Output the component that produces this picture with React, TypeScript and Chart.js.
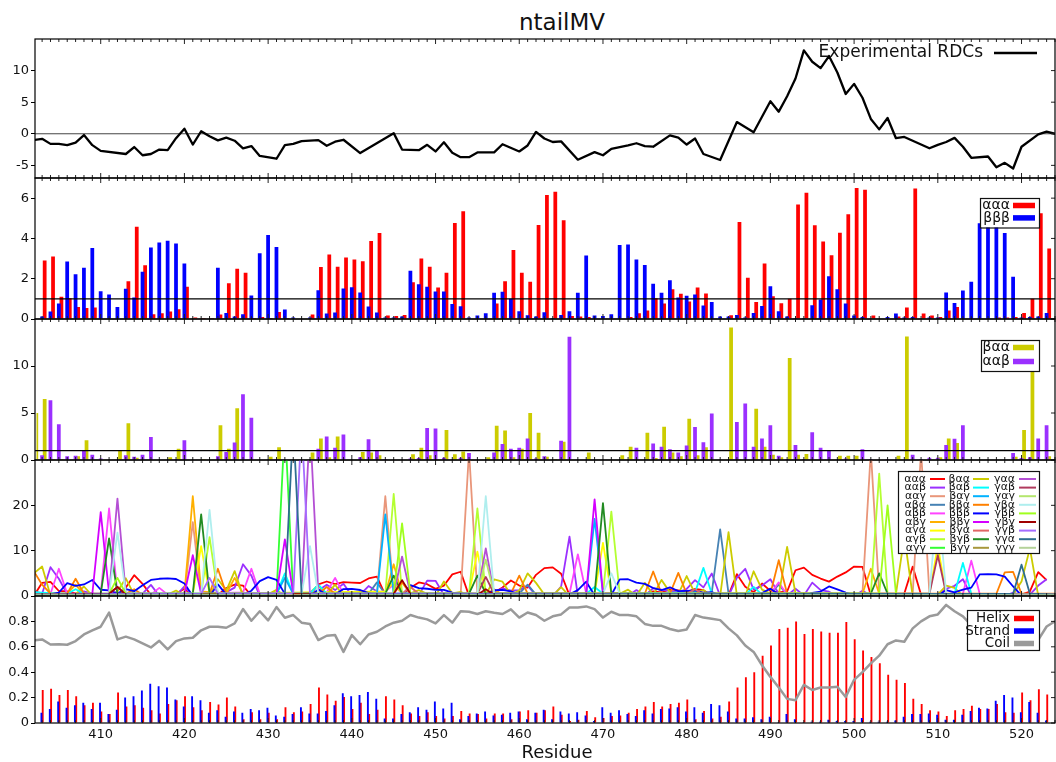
import React, { useEffect, useRef } from 'react';
import { Chart, registerables } from 'chart.js';

Chart.register(...registerables);

const FONT = '"DejaVu Sans", "Liberation Sans", Arial, sans-serif';
const W = 1056;
const PAD = 10;
const XAXIS_H = 45;
const XMIN = 402.15;
const XMAX = 524.0;
const BAR_SHIFT = 0.15;

// residues of the per-residue tables (402 .. 523)
const RESIDUES = Array.from({ length: 122 }, (_, i) => 402 + i);

// ---------- panel 1: experimental RDCs ----------
const RDC_RES = [402, 403, 404, 405, 406, 407, 408, 409, 410, 413, 414, 415, 416, 417, 418, 419, 420, 421, 422, 423, 424, 425, 426, 427, 428, 429, 431, 432, 433, 434, 436, 437, 438, 439, 441, 445, 446, 448, 449, 450, 451, 452, 453, 454, 455, 457, 458, 460, 461, 462, 463, 464, 465, 467, 469, 470, 471, 473, 474, 475, 476, 478, 479, 480, 481, 482, 484, 486, 488, 490, 491, 492, 493, 494, 495, 496, 497, 498, 499, 500, 501, 502, 503, 504, 505, 506, 509, 510, 511, 512, 513, 514, 516, 517, 518, 519, 520, 522, 523, 524];
const RDC_VAL = [-1.0, -0.8, -1.6, -1.6, -1.8, -1.4, -0.2, -1.8, -2.7, -3.2, -2.1, -3.4, -3.2, -2.5, -2.6, -0.7, 0.8, -1.7, 0.4, -0.4, -1.05, -0.6, -1.1, -2.3, -1.95, -3.5, -3.95, -1.8, -1.6, -1.15, -1.0, -1.9, -1.25, -0.95, -3.05, 0.1, -2.5, -2.6, -1.75, -2.8, -1.35, -3.0, -3.7, -3.7, -2.95, -2.95, -1.65, -2.8, -1.85, 0.3, -0.75, -1.3, -1.2, -4.1, -2.9, -3.4, -2.4, -1.85, -1.5, -1.95, -2.05, -0.25, -0.6, -1.7, -0.75, -3.2, -4.15, 1.85, 0.25, 5.15, 3.5, 5.95, 8.75, 13.2, 11.4, 10.4, 12.3, 9.7, 6.3, 7.9, 5.7, 2.35, 0.7, 2.5, -0.7, -0.5, -2.3, -1.75, -1.3, -0.65, -2.05, -3.8, -3.6, -5.3, -4.6, -5.5, -2.05, -0.1, 0.35, 0.0];

// ---------- panel 2: ααα / βββ ----------
const AAA = [
  0, 2.9, 3.1, 1.1, 1.03, 0.6, 0.55, 0.57,
  0.0, 0.0, 0.02, 1.88, 4.58, 2.67, 0.23, 0.28, 0.37, 0.48,
  1.6, 0.07, 0.05, 0.05, 0.22, 1.77, 2.5, 2.3, 0.05, 0.1,
  0.05, 0.35, 0.05, 0.02, 0.02, 0.22, 2.58, 3.2, 2.6, 3.05,
  2.95, 2.87, 3.87, 4.27, 0.17, 0.15, 0.2, 1.82, 3.0, 2.6,
  1.57, 2.3, 4.77, 5.35, 0.02, 0.0, 0.02, 0.77, 1.87, 3.43,
  2.3, 1.85, 4.67, 6.15, 6.32, 4.9, 0.15, 0.13, 0.1, 0.0,
  0.0, 0.0, 0.0, 0.1, 0.28, 0.42, 1.03, 0.77, 1.48, 1.25,
  0.87, 1.57, 1.27, 0.0, 0.03, 0.18, 4.82, 2.05, 0.85, 2.75,
  1.13, 0.78, 1.0, 5.68, 6.27, 4.65, 3.85, 3.17, 4.28, 5.2,
  6.5, 6.42, 0.17, 0.03, 0.03, 0.12, 0.57, 6.48, 0.27, 0.17,
  0.1, 0.42, 0.6, 0.0, 0.0, 0.0, 0.02, 0.08, 0.08, 0.1,
  0.3, 1.0, 5.25, 3.5,
];
const BBB = [
  0.35, 0.13, 0.37, 0.77, 2.85, 2.22, 2.55, 3.52,
  1.38, 1.22, 0.6, 1.5, 1.07, 2.35, 3.55, 3.8, 3.88, 3.75,
  2.75, 0.02, 0.0, 0.0, 2.55, 0.3, 0.12, 0.23, 1.17, 3.27,
  4.17, 3.57, 0.47, 0.07, 0.03, 0.08, 1.43, 0.27, 0.32, 1.52,
  1.58, 1.32, 0.62, 0.32, 0.07, 0.07, 0.12, 2.4, 1.72, 1.6,
  1.37, 1.37, 0.75, 0.63, 0.08, 0.17, 0.28, 1.3, 1.35, 1.0,
  0.38, 0.18, 0.12, 0.33, 0.05, 0.2, 0.38, 1.3, 3.15, 0.17,
  0.15, 0.23, 3.67, 3.7, 2.95, 2.68, 1.75, 1.3, 1.92, 1.07,
  1.15, 1.22, 0.67, 0.85, 0.13, 0.13, 0.2, 0.08, 0.3, 0.65,
  1.62, 0.38, 0.13, 0.05, 0.05, 0.68, 0.97, 2.12, 1.48, 0.77,
  0.17, 0.1, 0.0, 0.02, 0.1, 0.27, 0.07, 0.1, 0.0, 0.07,
  0.07, 1.32, 0.8, 1.42, 1.85, 4.75, 4.8, 4.75, 4.27, 2.1,
  0.07, 0.1, 0.13, 0.3,
];

// ---------- panel 3: βαα / ααβ ----------
const BAA = [
  5.0, 6.5, 0.1, 0.1, 0.0, 0.4, 2.1, 0.05,
  0.0, 0.0, 1.0, 3.9, 0.25, 0.05, 0.0, 0.05, 0.3, 1.2,
  0.05, 0.0, 0.1, 0.0, 3.7, 1.2, 5.5, 0.0, 0.05, 0.0,
  0.35, 1.35, 0.0, 0.0, 0.0, 0.8, 2.3, 0.3, 2.5, 0.0,
  0.0, 0.85, 0.8, 0.5, 0.05, 0.0, 0.0, 0.6, 1.3, 0.5,
  0.0, 3.2, 0.6, 0.9, 0.0, 0.0, 0.3, 3.65, 3.15, 0.3,
  1.2, 5.0, 2.9, 0.35, 0.1, 1.95, 0.0, 0.0, 0.8, 0.0,
  0.0, 0.0, 0.5, 1.4, 0.05, 2.9, 0.2, 3.55, 0.8, 0.4,
  4.4, 0.5, 1.35, 0.0, 0.0, 14.1, 0.1, 0.0, 5.45, 1.4,
  0.55, 0.3, 10.85, 0.55, 0.65, 0.0, 0.0, 0.0, 0.45, 0.45,
  0.45, 0.0, 0.0, 0.0, 0.0, 0.45, 13.15, 0.0, 0.0, 0.0,
  0.3, 2.3, 1.8, 0.0, 0.0, 0.0, 0.0, 0.0, 0.0, 0.35,
  3.2, 10.5, 0.0, 0.4,
];
const AAB = [
  0.2, 0.5, 6.35, 3.8, 0.4, 0.45, 1.0, 0.55,
  0.15, 0.0, 0.0, 0.5, 0.35, 0.55, 2.45, 0.0, 0.0, 0.1,
  2.1, 0.0, 0.0, 0.0, 0.4, 0.85, 1.85, 7.0, 4.5, 0.0,
  0.0, 0.1, 0.0, 0.0, 0.0, 0.0, 1.2, 2.5, 1.3, 2.7,
  0.05, 0.3, 2.2, 1.0, 0.1, 0.0, 0.0, 0.15, 0.2, 3.4,
  3.35, 0.25, 0.0, 0.25, 0.75, 0.0, 0.0, 0.8, 1.7, 1.2,
  1.3, 2.3, 0.15, 0.4, 0.0, 2.05, 13.1, 0.0, 0.0, 0.0,
  0.0, 0.0, 0.0, 0.05, 1.3, 0.05, 1.75, 1.4, 1.15, 0.8,
  1.55, 3.5, 1.9, 4.95, 0.0, 0.0, 4.05, 6.0, 1.4, 2.3,
  3.7, 0.45, 0.1, 1.6, 0.1, 2.95, 1.3, 0.95, 0.0, 0.15,
  0.0, 1.15, 0.1, 0.0, 0.1, 0.0, 0.0, 0.55, 0.1, 0.25,
  0.25, 1.6, 2.25, 3.7, 0.0, 0.0, 0.0, 0.0, 0.0, 0.75,
  0.2, 0.3, 2.3, 3.7,
];

// ---------- panel 4: the other triplet propensities, as [residue, value] ----------
const L_AAG = [[402, 0.2], [420, 0.3], [421, 16.3], [422, 0.4], [443, 0.6], [444, 22], [445, 0.5], [453, 0.4], [454, 32], [455, 0.5], [501, 0.6], [502, 32], [503, 0.6], [507, 0.5], [508, 32], [509, 0.5], [524, 0.2]];
const L_ABA = [[402, 1.0], [404, 0.2], [442, 0.5], [443, 3.0], [444, 0.4], [460, 0.5], [461, 2.5], [462, 0.3], [483, 0.8], [484, 14.7], [485, 0.5], [490, 0.5], [491, 2.5], [492, 0.3], [524, 0.2]];
const L_ABB = [[402, 0.3], [404, 0.5], [405, 6.0], [406, 0.5], [410, 0.5], [411, 19.3], [412, 0.5], [416, 0.3], [417, 1.8], [418, 0.3], [427, 0.8], [428, 6.0], [429, 0.5], [437, 0.8], [438, 4.0], [439, 0.5], [444, 1.0], [445, 2.5], [446, 0.5], [466, 0.5], [467, 9.2], [468, 0.5], [490, 0.5], [491, 3.0], [492, 0.3], [513, 0.5], [514, 7.8], [515, 0.5], [524, 0.3]];
const L_ABG = [[402, 0.5], [406, 0.5], [407, 2.5], [408, 0.3], [420, 0.5], [421, 22], [422, 1.0], [425, 0.5], [426, 4.0], [427, 0.5], [444, 0.5], [445, 7.0], [446, 0.5], [456, 0.4], [457, 1.5], [458, 0.3], [501, 0.5], [502, 6.0], [503, 0.5], [524, 0.3]];
const L_AGA = [[402, 0.3], [421, 0.5], [422, 11], [423, 0.5], [444, 1.0], [445, 3.0], [446, 0.5], [454, 0.5], [455, 9.8], [456, 0.5], [469, 0.5], [470, 11.7], [471, 0.5], [509, 0.5], [510, 11], [511, 0.5], [524, 0.3]];
const L_AGB = [[402, 0.2], [422, 0.5], [423, 13], [424, 0.5], [444, 0.5], [445, 22.5], [446, 0.5], [454, 0.5], [455, 19.3], [456, 0.5], [470, 0.5], [471, 18.6], [472, 0.5], [502, 0.5], [503, 27], [504, 0.5], [524, 0.2]];
const L_AGG = [[402, 0.2], [431, 0.3], [432, 38], [433, 0.3], [524, 0.2]];
const L_BAB = [[402, 0.8], [406, 0.5], [407, 1.5], [408, 0.5], [431, 0.5], [432, 5.0], [433, 0.5], [435, 0.5], [436, 2.5], [437, 0.5], [468, 0.5], [469, 2.0], [470, 0.5], [481, 0.8], [482, 6.2], [483, 0.5], [487, 0.3], [488, 2.0], [489, 0.3], [512, 0.5], [513, 7.3], [514, 0.5], [524, 0.3]];
const L_BAG = [[402, 0.3], [431, 0.5], [432, 4.0], [433, 0.5], [443, 0.5], [444, 18], [445, 0.5], [468, 0.5], [469, 17], [470, 0.5], [524, 0.3]];
const L_BBA = [[402, 5.5], [403, 2.5], [404, 0.5], [406, 0.5], [407, 3.8], [408, 0.5], [413, 0.5], [414, 1.5], [415, 0.3], [423, 0.5], [424, 6.0], [425, 0.5], [436, 0.5], [437, 2.0], [438, 0.5], [445, 0.5], [446, 3.0], [447, 0.5], [459, 0.5], [460, 4.5], [461, 0.5], [475, 0.5], [476, 5.4], [477, 0.5], [478, 0.5], [479, 5.1], [480, 0.5], [490, 0.5], [491, 7.9], [492, 0.5], [517, 0.5], [518, 5.2], [519, 5.3], [520, 0.5], [524, 0.5]];
const L_BBG = [[402, 0.3], [409, 0.5], [410, 18.5], [411, 0.5], [420, 0.5], [421, 9.0], [422, 0.5], [431, 0.5], [432, 12.5], [433, 0.5], [468, 0.5], [469, 21.3], [470, 0.5], [524, 0.3]];
const L_BGA = [[402, 0.3], [446, 0.5], [447, 2.0], [448, 0.5], [480, 0.5], [481, 1.5], [482, 0.3], [524, 0.3]];
const L_BGB = [[402, 0.3], [410, 0.5], [411, 12.7], [412, 0.5], [421, 0.5], [422, 18], [423, 0.5], [444, 0.5], [445, 4.5], [446, 0.5], [454, 0.5], [455, 4.5], [456, 0.5], [469, 0.5], [470, 20.5], [471, 0.5], [502, 0.5], [503, 5.0], [504, 0.5], [524, 0.3]];
const L_BGG = [[402, 0.3], [524, 0.3]];
const L_GAA = [[402, 0.3], [411, 0.5], [412, 21.5], [413, 0.5], [434, 0.5], [435, 38], [436, 0.5], [445, 0.5], [446, 8.7], [447, 0.5], [455, 0.5], [456, 10.5], [457, 0.5], [524, 0.3]];
const L_GAB = [[402, 0.3], [411, 0.5], [412, 2.0], [413, 0.3], [455, 0.5], [456, 4.2], [457, 0.5], [509, 0.5], [510, 9.0], [511, 0.5], [524, 0.3]];
const L_GAG = [[402, 0.3], [455, 0.5], [456, 8.0], [457, 0.5], [524, 0.3]];
const L_GBA = [[402, 0.3], [411, 0.5], [412, 14], [413, 0.5], [422, 0.5], [423, 19], [424, 0.5], [434, 0.5], [435, 11], [436, 0.5], [455, 0.5], [456, 22], [457, 0.5], [470, 0.5], [471, 5.0], [472, 0.5], [509, 0.5], [510, 22], [511, 0.5], [524, 0.3]];
const L_GBB = [[402, 0.3], [411, 0.5], [412, 4.0], [413, 0.5], [445, 0.5], [446, 16], [447, 0.5], [503, 0.5], [504, 20], [505, 0.5], [524, 0.3]];
const L_GBG = [[402, 0.3], [411, 0.5], [412, 2.0], [413, 0.3], [445, 0.5], [446, 3.5], [447, 0.5], [455, 0.3], [456, 1.5], [457, 0.3], [524, 0.3]];
const L_GGB = [[402, 0.3], [422, 0.5], [423, 4.0], [424, 0.5], [433, 0.5], [434, 38], [435, 0.5], [524, 0.3]];
const L_GGA = [[402, 0.3], [432, 0.3], [433, 38], [434, 0.3], [519, 0.5], [520, 6.9], [521, 0.5], [524, 0.3]];
const L_GGG = [[402, 0.2], [524, 0.2]];

// ---------- panel 5: secondary structure ----------
const HELIX = [
  0.21, 0.26, 0.27, 0.22, 0.26, 0.21, 0.14, 0.16,
  0.09, 0.07, 0.24, 0.13, 0.14, 0.12, 0.1, 0.075, 0.15, 0.18,
  0.21, 0.125, 0.1, 0.165, 0.145, 0.2, 0.13, 0.03, 0.085, 0.03,
  0.08, 0.03, 0.125, 0.085, 0.09, 0.15, 0.28, 0.225, 0.175, 0.205,
  0.11, 0.16, 0.07, 0.105, 0.21, 0.185, 0.14, 0.075, 0.055, 0.085,
  0.055, 0.035, 0.055, 0.095, 0.075, 0.07, 0.035, 0.075, 0.075, 0.03,
  0.09, 0.1, 0.08, 0.1, 0.13, 0.065, 0.015, 0.025, 0.095, 0.045,
  0.04, 0.055, 0.06, 0.08, 0.11, 0.13, 0.165, 0.13, 0.15, 0.16,
  0.185, 0.03, 0.095, 0.035, 0.05, 0.17, 0.28, 0.36, 0.4, 0.53,
  0.61, 0.74, 0.75, 0.8, 0.7, 0.74, 0.72, 0.71, 0.71, 0.795,
  0.66, 0.57, 0.52, 0.47, 0.38, 0.34, 0.315, 0.19, 0.15, 0.1,
  0.09, 0.055, 0.1, 0.11, 0.135, 0.11, 0.11, 0.15, 0.085, 0.08,
  0.24, 0.18, 0.265, 0.225,
];
const STRAND = [
  0.14, 0.08, 0.11, 0.17, 0.12, 0.14, 0.16, 0.11,
  0.16, 0.07, 0.105, 0.2, 0.21, 0.255, 0.31, 0.29, 0.28, 0.185,
  0.13, 0.21, 0.18, 0.08, 0.1, 0.05, 0.09, 0.08, 0.11, 0.1,
  0.12, 0.06, 0.05, 0.07, 0.125, 0.075, 0.075, 0.095, 0.14, 0.235,
  0.21, 0.22, 0.245, 0.19, 0.035, 0.035, 0.07, 0.085, 0.125, 0.105,
  0.17, 0.115, 0.16, 0.03, 0.055, 0.075, 0.09, 0.06, 0.065, 0.08,
  0.09, 0.03, 0.08, 0.105, 0.03, 0.09, 0.075, 0.085, 0.06, 0.015,
  0.125, 0.08, 0.1, 0.07, 0.055, 0.1, 0.075, 0.11, 0.115, 0.125,
  0.09, 0.125, 0.08, 0.15, 0.14, 0.09, 0.035, 0.035, 0.045, 0.03,
  0.05, 0.005, 0.07, 0.03, 0.005, 0.01, 0.01, 0.025, 0.015, 0.015,
  0.015, 0.04, 0.01, 0.01, 0.01, 0.02, 0.05, 0.07, 0.07, 0.075,
  0.065, 0.025, 0.025, 0.065, 0.095, 0.12, 0.115, 0.175, 0.22, 0.2,
  0.085, 0.165, 0.08, 0.02,
];
// coil: residues 402 .. 524
const COIL = [
  0.65, 0.658, 0.618, 0.62, 0.616, 0.645, 0.697, 0.73,
  0.758, 0.87, 0.658, 0.68, 0.658, 0.626, 0.595, 0.647, 0.58, 0.645,
  0.666, 0.671, 0.73, 0.758, 0.758, 0.75, 0.784, 0.897, 0.805, 0.88,
  0.808, 0.913, 0.829, 0.85, 0.79, 0.779, 0.653, 0.687, 0.692, 0.56,
  0.692, 0.62, 0.697, 0.718, 0.76, 0.79, 0.805, 0.85, 0.83, 0.816,
  0.784, 0.85, 0.79, 0.88, 0.876, 0.858, 0.88, 0.868, 0.858, 0.895,
  0.83, 0.87, 0.85, 0.805, 0.84, 0.855, 0.91, 0.91, 0.918, 0.897,
  0.83, 0.876, 0.85, 0.85, 0.84, 0.78, 0.765, 0.765, 0.74, 0.724,
  0.737, 0.85, 0.83, 0.82, 0.81, 0.745, 0.69, 0.61, 0.56, 0.455,
  0.363, 0.28, 0.19, 0.18, 0.3, 0.26, 0.28, 0.28, 0.285, 0.205,
  0.34, 0.4, 0.47, 0.53, 0.62, 0.65, 0.64, 0.745, 0.8, 0.84,
  0.855, 0.93, 0.88, 0.84, 0.77, 0.77, 0.775, 0.675, 0.695, 0.72,
  0.675, 0.655, 0.655, 0.76, 0.8,
];

const C = {
  red: '#ff0000', blue: '#0000ff', olive: '#cccc00', purple: '#9b30ff', grey: '#9a9a9a',
};

const pts = (vals: number[]) => vals.map((v, i) => ({ x: RESIDUES[0] + i, y: v }));
const pairs = (p: number[][]) => p.map(([x, y]) => ({ x, y }));

const LINES4 = [
  { label: 'ααα', color: '#ff0000', data: pts(AAA) },
  { label: 'ααβ', color: '#9b30ff', data: pts(AAB) },
  { label: 'ααγ', color: '#e9967a', data: pairs(L_AAG) },
  { label: 'αβα', color: '#4682b4', data: pairs(L_ABA) },
  { label: 'αββ', color: '#ff44ff', data: pairs(L_ABB) },
  { label: 'αβγ', color: '#ffb000', data: pairs(L_ABG) },
  { label: 'αγα', color: '#ffff00', data: pairs(L_AGA) },
  { label: 'αγβ', color: '#b4ff32', data: pairs(L_AGB) },
  { label: 'αγγ', color: '#33ff33', data: pairs(L_AGG) },
  { label: 'βαα', color: '#cccc00', data: pts(BAA) },
  { label: 'βαβ', color: '#00ffff', data: pairs(L_BAB) },
  { label: 'βαγ', color: '#00b2ff', data: pairs(L_BAG) },
  { label: 'ββα', color: '#ff8000', data: pairs(L_BBA) },
  { label: 'βββ', color: '#0000ff', data: pts(BBB) },
  { label: 'ββγ', color: '#d400ff', data: pairs(L_BBG) },
  { label: 'βγα', color: '#e06666', data: pairs(L_BGA) },
  { label: 'βγβ', color: '#228b22', data: pairs(L_BGB) },
  { label: 'βγγ', color: '#a8983c', data: pairs(L_BGG) },
  { label: 'γαα', color: '#b44fd4', data: pairs(L_GAA) },
  { label: 'γαβ', color: '#b03a5e', data: pairs(L_GAB) },
  { label: 'γαγ', color: '#b4e66e', data: pairs(L_GAG) },
  { label: 'γβα', color: '#afeeee', data: pairs(L_GBA) },
  { label: 'γββ', color: '#a0ff1e', data: pairs(L_GBB) },
  { label: 'γβγ', color: '#a00000', data: pairs(L_GBG) },
  { label: 'γγβ', color: '#a56cff', data: pairs(L_GGB) },
  { label: 'γγα', color: '#2e6e90', data: pairs(L_GGA) },
  { label: 'γγγ', color: '#b4d29a', data: pairs(L_GGG) },
];

// ---------- layout ----------
const PANELS = [
  { top: 39, bottom: 178 },
  { top: 178, bottom: 319 },
  { top: 319, bottom: 460 },
  { top: 460, bottom: 596 },
  { top: 596, bottom: 723 },
];

type LegItem = { label: string; color: string; kind: 'patch' | 'line' };
type LegCol = { textRight: number; s0: number; s1: number; items: LegItem[] };
type LegendSpec = {
  box: null | { x: number; y: number; w: number; h: number };
  font: number;
  rowY0: number;
  rowH: number;
  patchH: number;
  lineW: number;
  cols: LegCol[];
};

const LEG1: LegendSpec = {
  box: null, font: 17, rowY0: 53, rowH: 0, patchH: 0, lineW: 2.5,
  cols: [{ textRight: 983, s0: 994, s1: 1037, items: [{ label: 'Experimental RDCs', color: '#000', kind: 'line' }] }],
};
const LEG2: LegendSpec = {
  box: { x: 980, y: 198, w: 59, h: 29.5 }, font: 14, rowY0: 205.5, rowH: 12.4, patchH: 5.5, lineW: 0,
  cols: [{ textRight: 1010, s0: 1013, s1: 1035, items: [
    { label: 'ααα', color: C.red, kind: 'patch' },
    { label: 'βββ', color: C.blue, kind: 'patch' },
  ] }],
};
const LEG3: LegendSpec = {
  box: { x: 981, y: 340, w: 58, h: 31 }, font: 14, rowY0: 347.5, rowH: 14, patchH: 5.5, lineW: 0,
  cols: [{ textRight: 1010, s0: 1013, s1: 1034, items: [
    { label: 'βαα', color: C.olive, kind: 'patch' },
    { label: 'ααβ', color: C.purple, kind: 'patch' },
  ] }],
};
const LEG4: LegendSpec = {
  box: { x: 898, y: 471, w: 141, h: 82 }, font: 11, rowY0: 479, rowH: 8.6, patchH: 0, lineW: 2,
  cols: [
    { textRight: 926, s0: 930, s1: 945, items: LINES4.slice(0, 9).map((l) => ({ label: l.label, color: l.color, kind: 'line' as const })) },
    { textRight: 970, s0: 973, s1: 989, items: LINES4.slice(9, 18).map((l) => ({ label: l.label, color: l.color, kind: 'line' as const })) },
    { textRight: 1015, s0: 1019, s1: 1036, items: LINES4.slice(18, 27).map((l) => ({ label: l.label, color: l.color, kind: 'line' as const })) },
  ],
};
const LEG5: LegendSpec = {
  box: { x: 967, y: 610, w: 72, h: 40 }, font: 13.5, rowY0: 618.5, rowH: 12.5, patchH: 5.5, lineW: 0,
  cols: [{ textRight: 1010, s0: 1014, s1: 1034, items: [
    { label: 'Helix', color: C.red, kind: 'patch' },
    { label: 'Strand', color: C.blue, kind: 'patch' },
    { label: 'Coil', color: C.grey, kind: 'patch' },
  ] }],
};

function drawLegend(ctx: CanvasRenderingContext2D, spec: LegendSpec, offY: number) {
  ctx.save();
  if (spec.box) {
    const b = spec.box;
    ctx.fillStyle = '#ffffff';
    ctx.fillRect(b.x, b.y - offY, b.w, b.h);
    ctx.strokeStyle = '#111';
    ctx.lineWidth = 1.2;
    ctx.strokeRect(b.x + 0.5, b.y - offY + 0.5, b.w, b.h);
  }
  ctx.font = `${spec.font}px ${FONT}`;
  ctx.textAlign = 'right';
  ctx.textBaseline = 'middle';
  spec.cols.forEach((col) => {
    col.items.forEach((it, i) => {
      const y = spec.rowY0 + i * spec.rowH - offY;
      ctx.fillStyle = '#111';
      ctx.fillText(it.label, col.textRight, y);
      if (it.kind === 'patch') {
        ctx.fillStyle = it.color;
        ctx.fillRect(col.s0, y - spec.patchH / 2, col.s1 - col.s0, spec.patchH);
      } else {
        ctx.strokeStyle = it.color;
        ctx.lineWidth = spec.lineW;
        ctx.beginPath();
        ctx.moveTo(col.s0, y);
        ctx.lineTo(col.s1, y);
        ctx.stroke();
      }
    });
  });
  ctx.restore();
}

function drawFrame(chart: any) {
  const { ctx, chartArea: a } = chart;
  const xs = chart.scales.x;
  const ys = chart.scales.y;
  ctx.save();
  ctx.strokeStyle = '#222';
  ctx.lineWidth = 1;
  ctx.beginPath();
  for (let r = Math.ceil(XMIN); r <= XMAX; r++) {
    const px = xs.getPixelForValue(r);
    const len = r % 10 === 0 ? 5 : 3;
    ctx.moveTo(px, a.top);
    ctx.lineTo(px, a.top + len);
    ctx.moveTo(px, a.bottom);
    ctx.lineTo(px, a.bottom - len);
  }
  ys.ticks.forEach((t: any) => {
    const py = ys.getPixelForValue(t.value);
    ctx.moveTo(a.right, py);
    ctx.lineTo(a.right - 4, py);
  });
  ctx.stroke();
  ctx.strokeStyle = '#000';
  ctx.lineWidth = 1.2;
  ctx.strokeRect(a.left, a.top, a.right - a.left, a.bottom - a.top);
  ctx.restore();
}

type HLine = { value: number; color: string; width: number; onTop: boolean };

function drawHLine(chart: any, h: HLine) {
  const { ctx, chartArea: a } = chart;
  const y = chart.scales.y.getPixelForValue(h.value);
  ctx.save();
  ctx.strokeStyle = h.color;
  ctx.lineWidth = h.width;
  ctx.beginPath();
  ctx.moveTo(a.left, y);
  ctx.lineTo(a.right, y);
  ctx.stroke();
  ctx.restore();
}

function decoPlugin(canvasTop: number, legend: LegendSpec, hline?: HLine) {
  return {
    id: 'deco',
    beforeDatasetsDraw(chart: any) {
      if (hline && !hline.onTop) drawHLine(chart, hline);
    },
    afterDatasetsDraw(chart: any) {
      if (hline && hline.onTop) drawHLine(chart, hline);
      drawFrame(chart);
    },
    afterDraw(chart: any) {
      drawLegend(chart.ctx, legend, canvasTop);
    },
  };
}

function makeOptions(ymin: number, ymax: number, ystep: number, showX: boolean, barAxis: boolean) {
  const x: any = {
    type: 'linear',
    min: XMIN,
    max: XMAX,
    offset: false,
    display: showX,
    grid: { display: false, drawTicks: false, offset: false },
    border: { display: false },
    ticks: {
      stepSize: 10,
      includeBounds: false,
      autoSkip: false,
      maxRotation: 0,
      padding: 4,
      color: '#111',
      font: { family: FONT, size: 13 },
      callback: (v: any) => String(v),
    },
  };
  if (showX) {
    x.afterFit = (s: any) => {
      s.height = XAXIS_H;
    };
  }
  const scales: any = {
    x,
    y: {
      type: 'linear',
      min: ymin,
      max: ymax,
      afterFit: (s: any) => {
        s.width = 35;
      },
      afterBuildTicks: (s: any) => {
        s.ticks = s.ticks.filter((t: any) => t.value < ymax - 1e-9);
      },
      grid: { drawOnChartArea: false, drawTicks: true, tickLength: 4, color: '#000' },
      border: { display: false },
      ticks: {
        stepSize: ystep,
        includeBounds: false,
        padding: 2,
        color: '#111',
        font: { family: FONT, size: 13 },
      },
    },
  };
  if (barAxis) {
    scales.xb = {
      type: 'linear',
      min: XMIN - BAR_SHIFT,
      max: XMAX - BAR_SHIFT,
      offset: false,
      display: false,
      grid: { offset: false },
      ticks: { stepSize: 10, includeBounds: false },
    };
  }
  return {
    responsive: false,
    animation: false,
    devicePixelRatio: 1,
    events: [],
    layout: { padding: { top: PAD, bottom: showX ? 0 : PAD, left: 0, right: 1 } },
    plugins: { legend: { display: false }, tooltip: { enabled: false }, title: { display: false } },
    scales,
  };
}

// first (left) bar of each pair sits under the second one, as in the source figure
const barDs = (vals: number[], color: string, order: number) => ({
  type: 'bar' as const,
  data: pts(vals),
  xAxisID: 'xb',
  yAxisID: 'y',
  backgroundColor: color,
  borderWidth: 0,
  categoryPercentage: 0.62,
  barPercentage: 1.45,
  order,
  clip: { left: -1.5, right: 0, top: 0, bottom: 0 },
});

export default function App() {
  const r0 = useRef<HTMLCanvasElement>(null);
  const r1 = useRef<HTMLCanvasElement>(null);
  const r2 = useRef<HTMLCanvasElement>(null);
  const r3 = useRef<HTMLCanvasElement>(null);
  const r4 = useRef<HTMLCanvasElement>(null);
  const refs = [r0, r1, r2, r3, r4];

  useEffect(() => {
    const charts: Chart[] = [];
    const top = (i: number) => PANELS[i].top - PAD;

    // panel 1
    charts.push(
      new Chart(r0.current as HTMLCanvasElement, {
        type: 'line',
        data: {
          datasets: [
            {
              data: RDC_RES.map((r, i) => ({ x: r, y: RDC_VAL[i] })),
              borderColor: '#000',
              borderWidth: 2.3,
              pointRadius: 0,
              tension: 0,
              borderJoinStyle: 'round',
            } as any,
          ],
        },
        options: makeOptions(-7, 15, 5, false, false) as any,
        plugins: [decoPlugin(top(0), LEG1, { value: 0, color: '#444', width: 1, onTop: false })],
      })
    );

    // panel 2
    charts.push(
      new Chart(r1.current as HTMLCanvasElement, {
        type: 'bar',
        data: { datasets: [barDs(AAA, C.red, 2), barDs(BBB, C.blue, 1)] as any },
        options: makeOptions(0, 7, 2, false, true) as any,
        plugins: [decoPlugin(top(1), LEG2, { value: 1, color: '#000', width: 1.4, onTop: true })],
      })
    );

    // panel 3
    charts.push(
      new Chart(r2.current as HTMLCanvasElement, {
        type: 'bar',
        data: { datasets: [barDs(BAA, C.olive, 2), barDs(AAB, C.purple, 1)] as any },
        options: makeOptions(0, 15, 5, false, true) as any,
        plugins: [decoPlugin(top(2), LEG3, { value: 1, color: '#000', width: 1.4, onTop: true })],
      })
    );

    // panel 4
    charts.push(
      new Chart(r3.current as HTMLCanvasElement, {
        type: 'line',
        data: {
          datasets: LINES4.map((l, i) => ({
            data: l.data,
            borderColor: l.color,
            borderWidth: 1.8,
            pointRadius: 0,
            tension: 0,
            borderJoinStyle: 'round',
            order: -i,
          })) as any,
        },
        options: makeOptions(0, 30, 10, false, false) as any,
        plugins: [decoPlugin(top(3), LEG4)],
      })
    );

    // panel 5
    charts.push(
      new Chart(r4.current as HTMLCanvasElement, {
        type: 'bar',
        data: {
          datasets: [
            barDs(HELIX, C.red, 2),
            barDs(STRAND, C.blue, 1),
            {
              type: 'line',
              data: pts(COIL),
              xAxisID: 'x',
              yAxisID: 'y',
              borderColor: C.grey,
              borderWidth: 2.5,
              pointRadius: 0,
              tension: 0,
              borderJoinStyle: 'round',
              order: 0,
            },
          ] as any,
        },
        options: makeOptions(0, 1, 0.2, true, true) as any,
        plugins: [decoPlugin(top(4), LEG5)],
      })
    );

    return () => charts.forEach((c) => c.destroy());
  }, []);

  return (
    <div
      style={{
        position: 'fixed',
        left: 0,
        top: 0,
        width: W,
        height: 762,
        background: '#fff',
        overflow: 'hidden',
        fontFamily: FONT,
      }}
    >
      <div
        style={{
          position: 'absolute',
          left: 462,
          width: 200,
          top: 9,
          fontSize: 23,
          lineHeight: '26px',
          textAlign: 'center',
          color: '#111',
        }}
      >
        ntailMV
      </div>
      {PANELS.map((p, i) => (
        <canvas
          key={i}
          ref={refs[i]}
          width={W}
          height={p.bottom - p.top + PAD + (i === 4 ? XAXIS_H : PAD)}
          style={{ position: 'absolute', left: 0, top: p.top - PAD, display: 'block' }}
        />
      ))}
      <div
        style={{
          position: 'absolute',
          left: 457,
          width: 200,
          top: 741,
          fontSize: 18,
          lineHeight: '22px',
          textAlign: 'center',
          color: '#111',
        }}
      >
        Residue
      </div>
    </div>
  );
}
